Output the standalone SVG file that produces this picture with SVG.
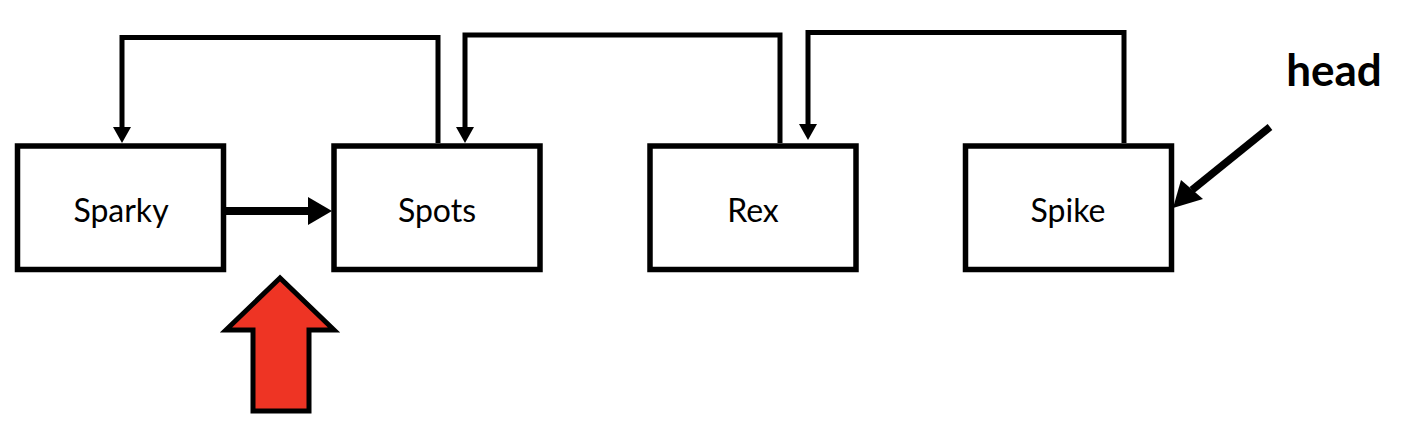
<svg xmlns="http://www.w3.org/2000/svg" width="1422" height="432" viewBox="0 0 1422 432">
<style>
.box{fill:#fff;stroke:#000;stroke-width:5.5}
.lbl{font-family:Lato,"Open Sans","Liberation Sans",sans-serif;font-size:32px;fill:#000;text-anchor:middle}
.link{fill:none;stroke:#000;stroke-width:5}
</style>
<rect width="1422" height="432" fill="#fff"/>
<g id="sparky"><rect class="box" x="17.5" y="146" width="206" height="123.5"/><text class="lbl" x="121" y="222">Sparky</text></g>
<g id="spots"><rect class="box" x="334" y="146" width="206" height="123.5"/><text class="lbl" x="437" y="222">Spots</text></g>
<g id="rex"><rect class="box" x="650" y="146" width="206" height="123.5"/><text class="lbl" x="753" y="222">Rex</text></g>
<g id="spike"><rect class="box" x="965.5" y="146" width="206" height="123.5"/><text class="lbl" x="1068" y="222">Spike</text></g>
<g id="connectors">
<path class="link" d="M438,143 V37.5 H122 V128"/>
<path d="M113,127 L131,127 L122,143 Z" fill="#000"/>
<path class="link" d="M780,143 V35 H465 V128"/>
<path d="M456,127 L474,127 L465,143 Z" fill="#000"/>
<path class="link" d="M1124,143 V32.5 H808 V125"/>
<path d="M799,124 L817,124 L808,140 Z" fill="#000"/>
<path d="M226,211 H310" stroke="#000" stroke-width="8" fill="none"/>
<path d="M308,197 L332,211 L308,225 Z" fill="#000"/>
<path d="M1270,127 L1192,190" stroke="#000" stroke-width="7.5" fill="none"/>
<path d="M1173,208 L1181,180 L1203,199 Z" fill="#000"/>
</g>
<g id="head"><text x="1334" y="86" font-family="Lato,'Open Sans','Liberation Sans',sans-serif" font-size="44" font-weight="bold" text-anchor="middle">head</text></g>
<g id="pointer"><polygon points="280,278 226,330 253,330 253,411 309,411 309,330 334,330" fill="#EE3424" stroke="#000" stroke-width="5"/></g>
</svg>
